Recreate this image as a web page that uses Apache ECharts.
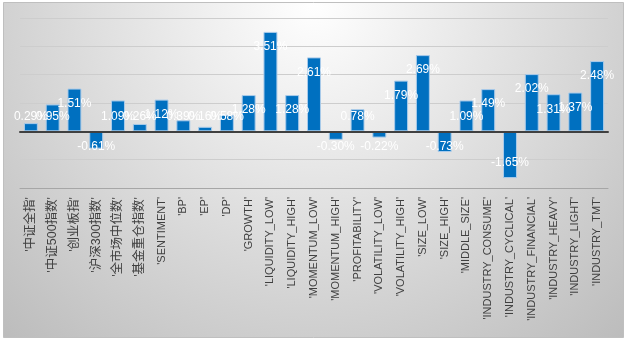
<!DOCTYPE html>
<html>
<head>
<meta charset="utf-8">
<script src="https://cdn.jsdelivr.net/npm/echarts@6/dist/echarts.min.js"></script>
<style>
html,body{margin:0;padding:0;background:#fff;}
#c{width:631px;height:343px;}
</style>
</head>
<body>
<div id="c"></div>
<script>
const categories = ["'中证全指'","'中证500指数'","'创业板指'","'沪深300指数'","'全市场中位数'","'基金重仓指数'","'SENTIMENT'","'BP'","'EP'","'DP'","'GROWTH'","'LIQUIDITY_LOW'","'LIQUIDITY_HIGH'","'MOMENTUM_LOW'","'MOMENTUM_HIGH'","'PROFITABILITY'","'VOLATILITY_LOW'","'VOLATILITY_HIGH'","'SIZE_LOW'","'SIZE_HIGH'","'MIDDLE_SIZE'","'INDUSTRY_CONSUME'","'INDUSTRY_CYCLICAL'","'INDUSTRY_FINANCIAL'","'INDUSTRY_HEAVY'","'INDUSTRY_LIGHT'","'INDUSTRY_TMT'"];
const values = [0.29,0.95,1.51,-0.61,1.09,0.26,1.12,0.39,0.16,0.58,1.28,3.51,1.28,2.61,-0.30,0.78,-0.22,1.79,2.69,-0.73,1.09,1.49,-1.65,2.02,1.31,1.37,2.48];
const yTicks = {min:-2, max:4, interval:1};

const chart = echarts.init(document.getElementById('c'), null, {renderer:'canvas'});
const seriesData = values.map(v => {
  let pos, dist;
  if (v >= 0) {
    if (v >= 1.1) { pos = 'insideTop'; dist = 9; } else { pos = 'insideBottom'; dist = 8.5; }
  } else {
    if (v <= -1.1) { pos = 'insideBottom'; dist = 9; } else { pos = 'insideTop'; dist = 9.5; }
  }
  return { value: v, label: { position: pos, distance: dist } };
});

const font = '"Liberation Sans", "Noto Sans CJK SC", sans-serif';
const cjkRe = /[\u4e00-\u9fff]/;
chart.setOption({
  animation: false,
  graphic: [{
    type: 'rect', z: -100, silent: true,
    shape: { x: 3.5, y: 2.5, width: 620, height: 335 },
    style: {
      fill: { type: 'radial', x: 0.5, y: 0, r: 1.4, colorStops: [
        { offset: 0, color: '#ffffff' }, { offset: 1, color: '#bababa' } ] },
      stroke: '#bfbfbf', lineWidth: 1
    }
  }],
  grid: { left: 20, right: 23, top: 18, bottom: 155, containLabel: false },
  xAxis: [{
    type: 'category', data: categories, position: 'bottom',
    axisLine: { onZero: true, lineStyle: { color: '#404040', width: 2 } },
    axisTick: { show: false }, axisLabel: { show: false }, z: 5
  }, {
    type: 'category', data: categories, position: 'bottom',
    axisLine: { onZero: false, lineStyle: { color: '#a6a6a6', width: 1 } },
    axisTick: { show: false },
    axisLabel: { rotate: 90, margin: 9, fontSize: 11, color: '#404040', fontFamily: font, interval: 0,
      formatter: s => cjkRe.test(s) ? '{c|' + s + '}' : s,
      rich: { c: { fontSize: 12.5, color: '#404040', fontFamily: font } } }
  }],
  yAxis: {
    type: 'value', min: yTicks.min, max: yTicks.max, interval: yTicks.interval,
    axisLabel: { show: false }, axisLine: { show: false }, axisTick: { show: false },
    splitLine: { lineStyle: { color: '#cdcdcd', width: 1 } }
  },
  series: [{
    type: 'bar', xAxisIndex: 0, data: seriesData,
    barCategoryGap: '36%',
    itemStyle: { color: '#0070C0', borderColor: '#a9cbea', borderWidth: 1 },
    label: { show: true, color: '#ffffff', fontSize: 12, fontFamily: font,
      formatter: p => p.value.toFixed(2) + '%' },
    z: 2
  }]
});
</script>
</body>
</html>
